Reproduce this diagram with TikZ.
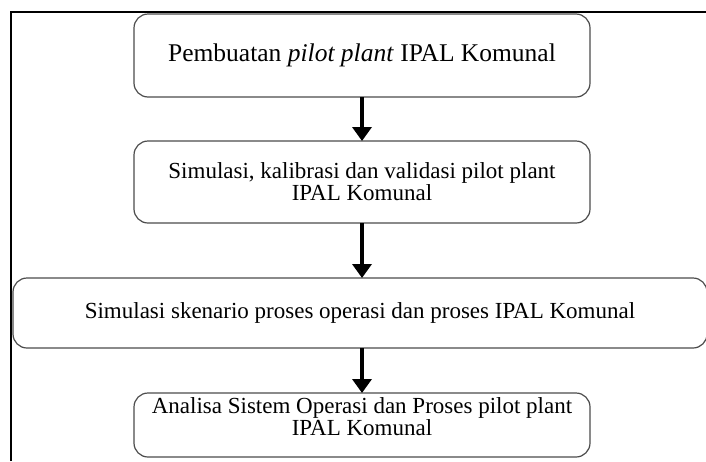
\documentclass[tikz,border=0pt]{standalone}
\usepackage{fontspec}
\setmainfont{Liberation Serif}
\usetikzlibrary{positioning, arrows.meta}

\begin{document}
\begin{tikzpicture}[x=0.5pt,y=-0.5pt,node distance=22pt,>={Triangle[width=9.5pt,length=7pt]}]
\tikzset{box/.style={draw=black!70,line width=0.6pt,rounded corners=7pt,outer sep=0pt,align=center,minimum width=228pt,font=\fontsize{11.5}{11}\selectfont}}
\tikzset{flow/.style={->,line width=2pt}}
\useasboundingbox (0,0) rectangle (706,461);
% frame
\draw[line width=1pt] (11,461) -- (11,12) -- (706,12);
\node[box,minimum height=41.5pt,font=\fontsize{12.75}{11}\selectfont] (buat) at (362,55.5) {Pembuatan \textit{pilot plant} IPAL Komunal};
\node[box,minimum height=41pt,below=of buat] (sim) {Simulasi, kalibrasi dan validasi pilot plant\\IPAL Komunal};
\node[box,minimum height=35pt,minimum width=347pt,below=27.5pt of sim,xshift=-1pt] (skn) {Simulasi skenario proses operasi dan proses IPAL Komunal};
\node[box,minimum height=32pt,below=22.5pt of skn,xshift=1pt,inner ysep=0pt,text height=18pt,text depth=8pt] (ana) {Analisa Sistem Operasi dan Proses pilot plant\\IPAL Komunal};

\draw[flow] (buat.south) -- (sim.north);
\draw[flow] (sim.south) -- (sim.south |- skn.north);
\draw[flow] (ana.north |- skn.south) -- (ana.north);
\end{tikzpicture}
\end{document}
